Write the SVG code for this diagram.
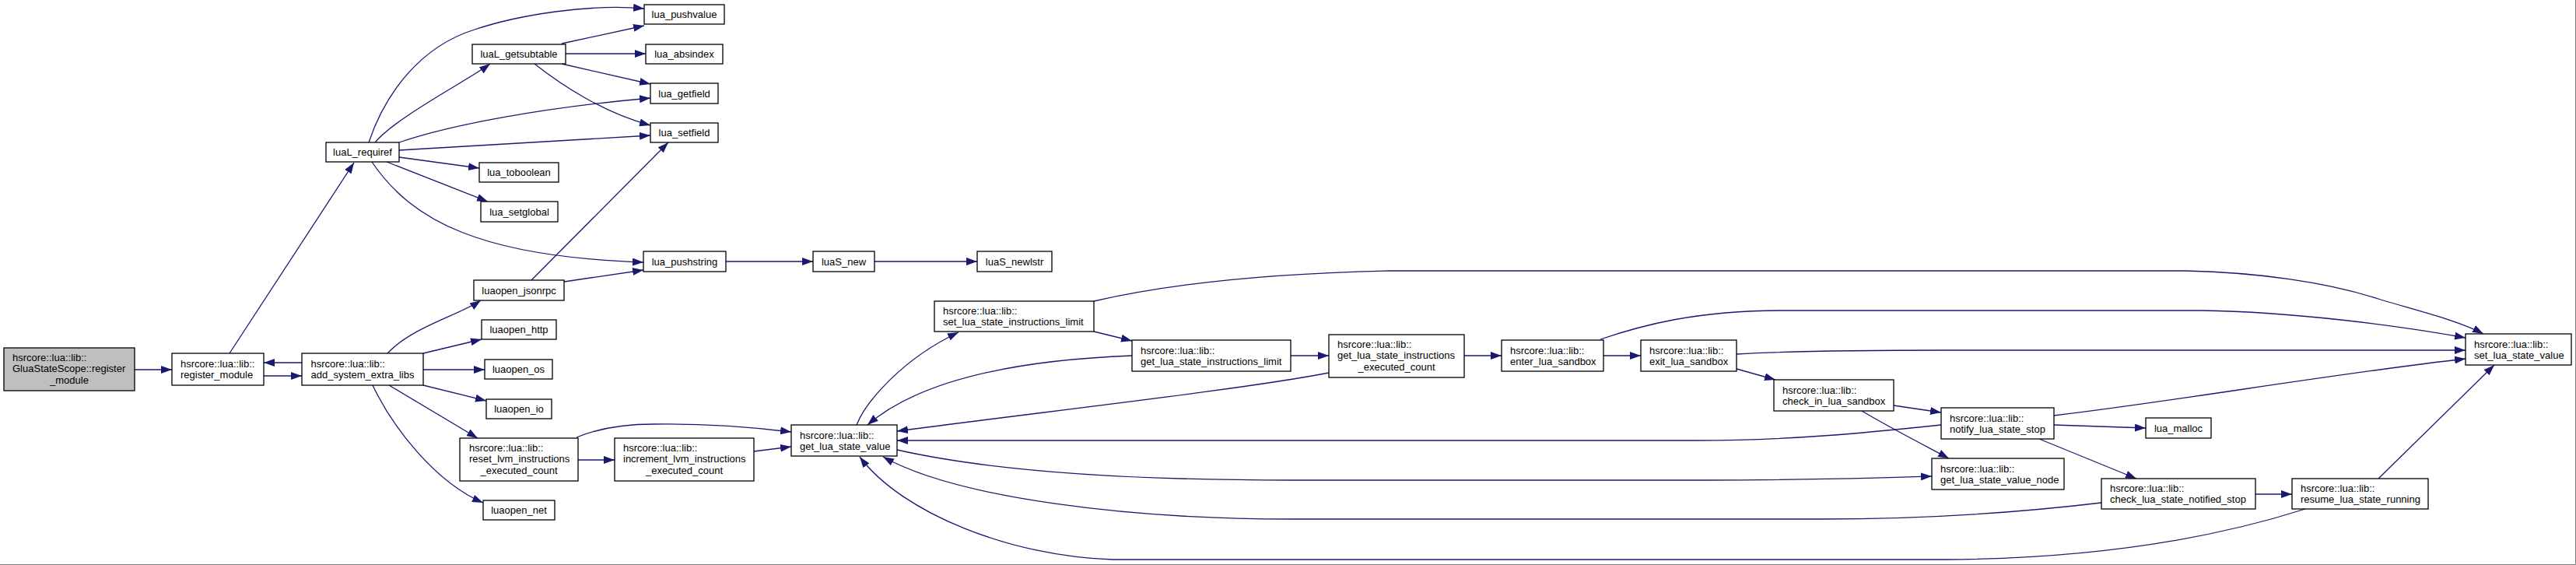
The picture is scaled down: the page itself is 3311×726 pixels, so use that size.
<svg xmlns="http://www.w3.org/2000/svg" width="3311" height="726" viewBox="0 0 3311 726">
<style>
  .n rect{fill:#ffffff;stroke:#000000;stroke-width:1.3}
  .n.root rect{fill:#bfbfbf}
  .n text{font-family:"Liberation Sans",Arial,sans-serif;font-size:13px;fill:#000000}
  .n text.c{text-anchor:middle}
  #edges path{fill:none;stroke:#191970;stroke-width:1.3}
  .frame{stroke:#808080;stroke-width:1;fill:none}
</style>
<defs>
  <marker id="ah" markerUnits="userSpaceOnUse" markerWidth="14" markerHeight="10" refX="14" refY="5" orient="auto">
    <path d="M0,0 L14,5 L0,10 z" fill="#191970"/>
  </marker>
</defs>
<rect x="0" y="0" width="3311" height="726" fill="#ffffff"/>
<path class="frame" d="M3310.5,0 V725.5 H0"/>

<g id="edges" marker-end="url(#ah)">
  <path d="M173,475 L221,475" marker-end="url(#ah)"/>
  <path d="M339,483 L388,483" marker-end="url(#ah)"/>
  <path d="M388,466 L339,466" marker-end="url(#ah)"/>
  <path d="M295,454 L455,209" marker-end="url(#ah)"/>
  <path d="M474,183 C495,120 540,60 610,38 C670,18 760,5 828,11" marker-end="url(#ah)"/>
  <path d="M482,183 C510,150 600,104 630,82" marker-end="url(#ah)"/>
  <path d="M722,56 L828,33" marker-end="url(#ah)"/>
  <path d="M727,69 L830,69" marker-end="url(#ah)"/>
  <path d="M722,82 L836,108" marker-end="url(#ah)"/>
  <path d="M687,82 C720,108 775,145 836,161" marker-end="url(#ah)"/>
  <path d="M513,183 C580,160 700,138 836,126" marker-end="url(#ah)"/>
  <path d="M513,193 L836,174" marker-end="url(#ah)"/>
  <path d="M513,202 L616,216" marker-end="url(#ah)"/>
  <path d="M497,208 L627,259" marker-end="url(#ah)"/>
  <path d="M478,208 C530,285 620,330 827,337" marker-end="url(#ah)"/>
  <path d="M683,360 L859,183" marker-end="url(#ah)"/>
  <path d="M725,362 L827,347" marker-end="url(#ah)"/>
  <path d="M933,336 L1045,336" marker-end="url(#ah)"/>
  <path d="M1124,336 L1256,336" marker-end="url(#ah)"/>
  <path d="M498,454 C530,420 590,405 618,386" marker-end="url(#ah)"/>
  <path d="M544,454 L619,436" marker-end="url(#ah)"/>
  <path d="M544,475 L623,475" marker-end="url(#ah)"/>
  <path d="M544,495 L625,515" marker-end="url(#ah)"/>
  <path d="M500,495 L614,563" marker-end="url(#ah)"/>
  <path d="M479,495 C505,550 560,620 621,646" marker-end="url(#ah)"/>
  <path d="M743,591 L790,591" marker-end="url(#ah)"/>
  <path d="M741,562 C770,550 800,545 840,545 C900,544 960,548 1017,555" marker-end="url(#ah)"/>
  <path d="M969,580 L1017,574" marker-end="url(#ah)"/>
  <path d="M1101,546 C1112,518 1158,462 1232,427" marker-end="url(#ah)"/>
  <path d="M1406,426 L1455,438" marker-end="url(#ah)"/>
  <path d="M1406,387 C1480,370 1600,352 1787,348 L2809,348 C2900,350 2990,362 3060,385 C3110,400 3160,412 3192,429" marker-end="url(#ah)"/>
  <path d="M1455,457 C1300,463 1180,490 1115,546" marker-end="url(#ah)"/>
  <path d="M1708,479 C1600,500 1350,528 1153,554" marker-end="url(#ah)"/>
  <path d="M1659,457 L1708,457" marker-end="url(#ah)"/>
  <path d="M1882,457 L1930,457" marker-end="url(#ah)"/>
  <path d="M2061,457 L2109,457" marker-end="url(#ah)"/>
  <path d="M2057,436 C2110,418 2180,399 2290,399 L2830,399 C2950,401 3080,418 3169,434" marker-end="url(#ah)"/>
  <path d="M2232,455 C2300,451 2400,450 2500,450 L3169,450" marker-end="url(#ah)"/>
  <path d="M2232,474 L2282,488" marker-end="url(#ah)"/>
  <path d="M2495,546 C2400,556 2300,566 2180,566 L1153,566" marker-end="url(#ah)"/>
  <path d="M2434,521 L2495,530" marker-end="url(#ah)"/>
  <path d="M2393,528 C2430,550 2475,573 2505,589" marker-end="url(#ah)"/>
  <path d="M1153,578 C1250,600 1400,617 1660,617 L2190,617 C2330,617 2420,614 2483,612" marker-end="url(#ah)"/>
  <path d="M2701,646 C2600,658 2480,667 2340,667 L1660,667 C1450,667 1230,640 1135,587" marker-end="url(#ah)"/>
  <path d="M2963,654 C2850,690 2700,718 2500,719 L1430,719 C1300,715 1160,660 1105,587" marker-end="url(#ah)"/>
  <path d="M2640,534 C2800,515 3000,480 3169,461" marker-end="url(#ah)"/>
  <path d="M2640,546 L2758,550" marker-end="url(#ah)"/>
  <path d="M2621,564 L2746,615" marker-end="url(#ah)"/>
  <path d="M2899,635 L2946,635" marker-end="url(#ah)"/>
  <path d="M3057,615 L3206,469" marker-end="url(#ah)"/>
</g>

<g id="n_glua" class="n root"><rect x="5" y="447" width="168" height="55"/>
  <text x="16" y="463.5">hsrcore::lua::lib::</text><text x="16" y="478">GluaStateScope::register</text><text class="c" x="89" y="492.5">_module</text></g>
<g id="n_register" class="n"><rect x="221" y="454" width="118" height="41"/>
  <text x="232" y="471.5">hsrcore::lua::lib::</text><text x="232" y="485.5">register_module</text></g>
<g id="n_addsys" class="n"><rect x="388" y="454" width="156" height="41"/>
  <text x="399.5" y="471.5">hsrcore::lua::lib::</text><text x="399.5" y="485.5">add_system_extra_libs</text></g>
<g id="n_requiref" class="n"><rect x="419" y="183" width="94" height="25"/><text class="c" x="466" y="200">luaL_requiref</text></g>
<g id="n_getsubtable" class="n"><rect x="607" y="57" width="120" height="25"/><text class="c" x="667" y="74">luaL_getsubtable</text></g>
<g id="n_pushvalue" class="n"><rect x="828" y="6" width="103" height="25"/><text class="c" x="879.5" y="23">lua_pushvalue</text></g>
<g id="n_absindex" class="n"><rect x="830" y="57" width="99" height="25"/><text class="c" x="879.5" y="74">lua_absindex</text></g>
<g id="n_getfield" class="n"><rect x="836" y="107" width="87" height="26"/><text class="c" x="879.5" y="124.5">lua_getfield</text></g>
<g id="n_setfield" class="n"><rect x="836" y="158" width="87" height="25"/><text class="c" x="879.5" y="175">lua_setfield</text></g>
<g id="n_toboolean" class="n"><rect x="616" y="209" width="102" height="25"/><text class="c" x="667" y="226">lua_toboolean</text></g>
<g id="n_setglobal" class="n"><rect x="618" y="259" width="99" height="26"/><text class="c" x="667.5" y="276.5">lua_setglobal</text></g>
<g id="n_pushstring" class="n"><rect x="827" y="323" width="106" height="26"/><text class="c" x="880" y="340.5">lua_pushstring</text></g>
<g id="n_luaS_new" class="n"><rect x="1045" y="323" width="79" height="26"/><text class="c" x="1084.5" y="340.5">luaS_new</text></g>
<g id="n_luaS_newlstr" class="n"><rect x="1256" y="323" width="96" height="26"/><text class="c" x="1304" y="340.5">luaS_newlstr</text></g>
<g id="n_jsonrpc" class="n"><rect x="609" y="360" width="116" height="26"/><text class="c" x="667" y="377.5">luaopen_jsonrpc</text></g>
<g id="n_http" class="n"><rect x="619" y="411" width="96" height="25"/><text class="c" x="667" y="428">luaopen_http</text></g>
<g id="n_os" class="n"><rect x="623" y="462" width="87" height="25"/><text class="c" x="666.5" y="479">luaopen_os</text></g>
<g id="n_io" class="n"><rect x="625" y="513" width="84" height="25"/><text class="c" x="667" y="530">luaopen_io</text></g>
<g id="n_net" class="n"><rect x="621" y="643" width="92" height="25"/><text class="c" x="667" y="660">luaopen_net</text></g>
<g id="n_reset" class="n"><rect x="591" y="563" width="152" height="55"/>
  <text x="603" y="579.5">hsrcore::lua::lib::</text><text x="603" y="594">reset_lvm_instructions</text><text class="c" x="667" y="608.5">_executed_count</text></g>
<g id="n_increment" class="n"><rect x="790" y="563" width="179" height="55"/>
  <text x="801" y="579.5">hsrcore::lua::lib::</text><text x="801" y="594">increment_lvm_instructions</text><text class="c" x="879.5" y="608.5">_executed_count</text></g>
<g id="n_getvalue" class="n"><rect x="1017" y="546" width="136" height="40"/>
  <text x="1028" y="563.5">hsrcore::lua::lib::</text><text x="1028" y="577.5">get_lua_state_value</text></g>
<g id="n_setlimit" class="n"><rect x="1201" y="387" width="205" height="39"/>
  <text x="1212" y="404">hsrcore::lua::lib::</text><text x="1212" y="418">set_lua_state_instructions_limit</text></g>
<g id="n_getlimit" class="n"><rect x="1455" y="437" width="204" height="40"/>
  <text x="1466" y="454.5">hsrcore::lua::lib::</text><text x="1466" y="468.5">get_lua_state_instructions_limit</text></g>
<g id="n_executed" class="n"><rect x="1708" y="430" width="174" height="55"/>
  <text x="1719" y="446.5">hsrcore::lua::lib::</text><text x="1719" y="461">get_lua_state_instructions</text><text class="c" x="1795" y="475.5">_executed_count</text></g>
<g id="n_enter" class="n"><rect x="1930" y="437" width="131" height="40"/>
  <text x="1941" y="454.5">hsrcore::lua::lib::</text><text x="1941" y="468.5">enter_lua_sandbox</text></g>
<g id="n_exit" class="n"><rect x="2109" y="437" width="123" height="40"/>
  <text x="2120" y="454.5">hsrcore::lua::lib::</text><text x="2120" y="468.5">exit_lua_sandbox</text></g>
<g id="n_checkin" class="n"><rect x="2280" y="488" width="154" height="40"/>
  <text x="2291" y="505.5">hsrcore::lua::lib::</text><text x="2291" y="519.5">check_in_lua_sandbox</text></g>
<g id="n_valuenode" class="n"><rect x="2483" y="589" width="170" height="40"/>
  <text x="2494" y="606.5">hsrcore::lua::lib::</text><text x="2494" y="620.5">get_lua_state_value_node</text></g>
<g id="n_notify" class="n"><rect x="2495" y="524" width="145" height="40"/>
  <text x="2506" y="541.5">hsrcore::lua::lib::</text><text x="2506" y="555.5">notify_lua_state_stop</text></g>
<g id="n_malloc" class="n"><rect x="2758" y="537" width="84" height="26"/><text class="c" x="2800" y="554.5">lua_malloc</text></g>
<g id="n_checknotified" class="n"><rect x="2701" y="615" width="198" height="39"/>
  <text x="2712" y="632">hsrcore::lua::lib::</text><text x="2712" y="646">check_lua_state_notified_stop</text></g>
<g id="n_resume" class="n"><rect x="2946" y="615" width="175" height="39"/>
  <text x="2957" y="632">hsrcore::lua::lib::</text><text x="2957" y="646">resume_lua_state_running</text></g>
<g id="n_setvalue" class="n"><rect x="3169" y="429" width="136" height="40"/>
  <text x="3180" y="446.5">hsrcore::lua::lib::</text><text x="3180" y="460.5">set_lua_state_value</text></g>
</svg>
